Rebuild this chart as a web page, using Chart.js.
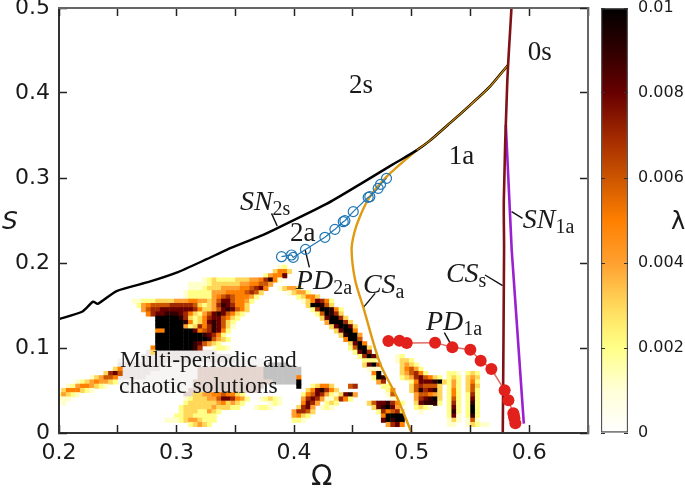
<!DOCTYPE html>
<html>
<head>
<meta charset="utf-8">
<script src="https://cdn.jsdelivr.net/npm/chart.js@4"></script>
<style>
    body { margin: 0; background: #fff; }
    #mainChart { position: absolute; left: 0; top: 0; }
    #barChart { position: absolute; left: 590px; top: 0; }
</style>
</head>
<body>
<canvas id="mainChart" width="685" height="488"></canvas>
<canvas id="barChart" width="95" height="488"></canvas>
<script>
// Bifurcation curves (Omega, S)
const sn2sOmega = [0.2, 0.22, 0.229, 0.233, 0.249, 0.277, 0.3, 0.3256, 0.3426, 0.371, 0.385, 0.4276, 0.4559, 0.484, 0.5042, 0.5155, 0.5325, 0.5495, 0.5665, 0.582];
const sn2sS = [0.134, 0.143, 0.1545, 0.152, 0.167, 0.178, 0.1886, 0.2045, 0.2155, 0.2315, 0.2405, 0.2695, 0.2925, 0.316, 0.3325, 0.344, 0.3645, 0.3855, 0.4075, 0.433];
const csaOmega = [0.5, 0.4873, 0.4731, 0.4587, 0.4519, 0.4489, 0.4511, 0.4559, 0.4645, 0.4787, 0.5042, 0.5155, 0.5325, 0.5495, 0.5665, 0.582];
const csaS = [0, 0.0427, 0.082, 0.1486, 0.18, 0.2153, 0.235, 0.2545, 0.278, 0.3015, 0.3325, 0.344, 0.3645, 0.3855, 0.4075, 0.433];
const cuspOmega = [0.5042, 0.5155, 0.5325, 0.5495, 0.5665, 0.582];
const cuspS = [0.3325, 0.344, 0.3645, 0.3855, 0.4075, 0.433];
const cssOmega = [0.5775, 0.5786, 0.5784, 0.5813, 0.5849];
const cssS = [0, 0.2153, 0.274, 0.4117, 0.5];
const sn1aOmega = [0.5954, 0.5851, 0.5801];
const sn1aS = [0.011, 0.2153, 0.3624];
const pd1aOmega = [0.4802, 0.4896, 0.4958, 0.5199, 0.5346, 0.5499, 0.5587, 0.5678, 0.5791, 0.5823, 0.5865, 0.587, 0.5874, 0.5882];
const pd1aS = [0.1082, 0.1086, 0.1059, 0.1063, 0.1008, 0.098, 0.0851, 0.0753, 0.0502, 0.0384, 0.0231, 0.02, 0.0173, 0.0114];
const pd2aOmega = [0.3893, 0.3978, 0.3992, 0.4097, 0.4262, 0.4347, 0.4418, 0.4432, 0.4503, 0.463, 0.4644, 0.4715, 0.4735, 0.4786];
const pd2aS = [0.2074, 0.2094, 0.2066, 0.216, 0.2302, 0.2396, 0.2486, 0.2498, 0.2604, 0.2772, 0.278, 0.2878, 0.2925, 0.2996];

// Leader lines from the labels to their curves
const leaders = [
    [[0.3808, 0.2584], [0.3856, 0.2435]],
    [[0.4094, 0.2153], [0.413, 0.1949]],
    [[0.4689, 0.1643], [0.459, 0.1478]],
    [[0.5624, 0.1859], [0.5774, 0.1733]],
    [[0.5278, 0.118], [0.5341, 0.1024]],
    [[0.585, 0.2604], [0.5943, 0.2526]]
];

// Lyapunov map: [S, first column, levels], column 0 is Omega 0.2, one column is 0.004
// levels 1-9 and x stand for 0.001 - 0.01, g/h/i/p are the grey patch under the text
const heatRows = [
    [0.095, 19, "hhhhhhhhhhhhhhh"],
    [0.09, 18, "hhhhhhhhhhhhhhhhhhh"],
    [0.085, 13, "iiiiiihhhhhhhhhhhhhhhhhhhiiiiii"],
    [0.08, 13, "hhhhhhhhhhiiiiiiiiiiiiiiiiiiiiiigggg"],
    [0.075, 13, "hhhhhhhhhiiiiiiiippppppppppppppgggggggg"],
    [0.07, 13, "hhhhhhhiiiiiiiiiippppppppppppppgggggggg"],
    [0.065, 13, "hhhhhhiiiiiiiiiiippppppppppppppggggggg"],
    [0.06, 13, "iiiiiiiiiiiiiiiipppppppppppppppppggggg"],
    [0.055, 14, "iiiiiiiiiiiiiiippppppppppppppp"],
    [0.05, 14, "iiiiiiiiiiiiiippppppppppppppp"],
    [0.045, 27, "pp"],
    // left tail
    [0.075, 12, "35"],
    [0.07, 10, "3786"],
    [0.065, 7, "134665"],
    [0.06, 4, "123454432"],
    [0.055, 2, "124554321"],
    [0.05, 1, "3555321"],
    [0.045, 0, "24321"],
    [0.04, 0, "111"],
    [0.035, 1, "1"],
    // upper wedge and the black core
    [0.195, 47, "12"],
    [0.19, 46, "3553"],
    [0.185, 44, "24558"],
    [0.18, 31, "12322223334457951"],
    [0.175, 28, "111123333334455664"],
    [0.17, 28, "11123334444556785"],
    [0.165, 27, "12222244455556763"],
    [0.16, 27, "1222224567655542"],
    [0.155, 16, "11222333344455443468865542"],
    [0.15, 17, "245666677777632347987553"],
    [0.145, 18, "46778888888753346898653"],
    [0.14, 19, "578899987532468986532"],
    [0.135, 21, "xxxxx9732357886532"],
    [0.13, 21, "xxxxxx95235898632"],
    [0.125, 21, "xxxxxx42375798631"],
    [0.12, 21, "55xxxxxx85679852"],
    [0.115, 21, "xxxxxxxxxx98752"],
    [0.11, 21, "xxxxxxxxxxx96432"],
    [0.105, 21, "xxxxxxxx986432"],
    [0.1, 20, "5xxxxxxxx97"],
    [0.1, 33, "1221"],
    [0.095, 20, "3"],
    // lower yellow blob
    [0.045, 29, "33445565532"],
    [0.04, 27, "12333446887542"],
    [0.04, 43, "12321"],
    [0.035, 27, "2333333453432"],
    [0.035, 45, "121"],
    [0.03, 26, "2333333433322"],
    [0.03, 42, "1221"],
    [0.025, 26, "233322432"],
    [0.02, 25, "223322222"],
    [0.015, 23, "11123443222"],
    [0.01, 28, "23432"],
    // small spot at 0.4
    [0.065, 51, "5"],
    [0.06, 51, "x"],
    [0.055, 51, "x"],
    // blob right of 0.4
    [0.055, 54, "23553"],
    [0.055, 62, "67"],
    [0.05, 53, "3589753"],
    [0.045, 52, "256874213894"],
    [0.04, 52, "47874113752"],
    [0.035, 52, "5874"],
    [0.035, 57, "232"],
    [0.03, 51, "3784"],
    [0.03, 56, "121"],
    [0.025, 50, "47763"],
    [0.02, 50, "4532"],
    [0.015, 50, "221"],
    // diagonal stripe
    [0.17, 47, "13443"],
    [0.165, 49, "13442"],
    [0.16, 51, "23553"],
    [0.155, 52, "1358752"],
    [0.15, 53, "3xx963"],
    [0.145, 54, "27xx952"],
    [0.14, 55, "26x973"],
    [0.135, 56, "38xx73"],
    [0.13, 57, "4xxx73"],
    [0.125, 58, "38xx83"],
    [0.12, 59, "38xx5"],
    [0.115, 60, "39xx4"],
    [0.11, 61, "5xx6"],
    [0.105, 62, "38x5"],
    [0.1, 62, "26xx3"],
    [0.095, 63, "28x7"],
    [0.09, 64, "27x8"],
    [0.085, 65, "222"],
    [0.08, 65, "38x6"],
    [0.075, 66, "111"],
    [0.07, 67, "5x"],
    [0.065, 67, "2x9"],
    [0.06, 68, "47"],
    [0.055, 69, "22"],
    [0.05, 70, "25"],
    [0.045, 70, "16"],
    [0.04, 71, "11"],
    // blob left of 0.5
    [0.035, 66, "36889752"],
    [0.03, 67, "389x84"],
    [0.025, 68, "275673"],
    [0.02, 69, "5xxxx"],
    [0.015, 69, "8x9xx"],
    [0.01, 70, "4785"],
    // blob right of 0.5
    [0.09, 72, "12"],
    [0.085, 72, "1332"],
    [0.08, 73, "3432"],
    [0.075, 73, "35642"],
    [0.07, 73, "346752"],
    [0.065, 73, "234786532"],
    [0.06, 75, "258889x3"],
    [0.055, 75, "3676663"],
    [0.05, 75, "3697893"],
    [0.045, 76, "466543"],
    [0.04, 76, "4789x3"],
    [0.035, 76, "389992"],
    [0.03, 76, "2321"],
    [0.025, 77, "1"],
    // two narrow stripes
    [0.07, 83, "221"],
    [0.065, 83, "232"],
    [0.06, 83, "242"],
    [0.055, 83, "242"],
    [0.05, 83, "252"],
    [0.045, 83, "252"],
    [0.04, 83, "262"],
    [0.035, 83, "272"],
    [0.03, 83, "282"],
    [0.025, 83, "292"],
    [0.02, 83, "281"],
    [0.015, 83, "131"],
    [0.01, 83, "11"],
    [0.07, 87, "232"],
    [0.065, 87, "343"],
    [0.06, 87, "352"],
    [0.055, 87, "363"],
    [0.05, 87, "362"],
    [0.045, 87, "272"],
    [0.04, 87, "282"],
    [0.035, 87, "292"],
    [0.03, 87, "2x2"],
    [0.025, 87, "2x2"],
    [0.02, 87, "292"],
    [0.015, 87, "161"],
    [0.01, 87, "13211"]
];

const heatColors = {
    "1": "#ffffcc", "2": "#ffff88", "3": "#ffd85a", "4": "#ffa030", "5": "#ff8000",
    "6": "#cc5500", "7": "#a02800", "8": "#680000", "9": "#300000", "x": "#000000",
    "g": "#c2c2c2", "h": "#ede9e8", "i": "#f7f5f4", "p": "#e6d6d0"
};

const barStops = [
    [0, "#ffffff"], [0.1, "#ffffd8"], [0.2, "#ffff88"], [0.25, "#ffee70"], [0.3, "#ffd85a"],
    [0.4, "#ffa030"], [0.5, "#ff8000"], [0.6, "#cc5500"], [0.7, "#a02800"], [0.8, "#680000"],
    [0.9, "#300000"], [1, "#000000"]
];

const mathLabels = [
    { main: "SN", sub: "2s", x: 0.3539, y: 0.2624 },
    { main: "PD", sub: "2a", x: 0.4015, y: 0.169 },
    { main: "CS", sub: "a", x: 0.4585, y: 0.1647 },
    { main: "PD", sub: "1a", x: 0.5121, y: 0.1212 },
    { main: "CS", sub: "s", x: 0.5291, y: 0.1776 },
    { main: "SN", sub: "1a", x: 0.5946, y: 0.2412 }
];
const plainLabels = [
    { text: "2s", x: 0.4466, y: 0.4, size: 27 },
    { text: "0s", x: 0.5988, y: 0.4388, size: 27 },
    { text: "1a", x: 0.5316, y: 0.3165, size: 27 },
    { text: "2a", x: 0.3964, y: 0.2259, size: 27 },
    { text: "Multi-periodic and", x: 0.2519, y: 0.0776, size: 23.5 },
    { text: "chaotic solutions", x: 0.251, y: 0.047, size: 23.5 }
];

function zip(xs, ys) {
    return xs.map((x, i) => ({ x: x, y: ys[i] }));
}

function buildHeatPoints() {
    const points = [];
    heatRows.forEach(row => {
        [...row[2]].forEach((level, i) => {
            points.push({ x: 0.2 + (row[1] + i) * 0.004, y: row[0], level: level });
        });
    });
    return points;
}

const textPlugin = {
    id: "textPlugin",
    afterDraw(chart) {
        const ctx = chart.ctx;
        const xScale = chart.scales.x;
        const yScale = chart.scales.y;
        ctx.save();
        ctx.fillStyle = "#1a1a1a";
        ctx.textBaseline = "alphabetic";
        ctx.textAlign = "left";

        plainLabels.forEach(label => {
            ctx.font = label.size + 'px "Liberation Serif"';
            ctx.fillText(label.text, xScale.getPixelForValue(label.x), yScale.getPixelForValue(label.y));
        });
        mathLabels.forEach(label => {
            const px = xScale.getPixelForValue(label.x);
            const py = yScale.getPixelForValue(label.y);
            ctx.font = 'italic 28px "Liberation Serif"';
            ctx.fillText(label.main, px, py);
            const w = ctx.measureText(label.main).width;
            ctx.font = '20px "Liberation Serif"';
            ctx.fillText(label.sub, px + w, py + 5);
        });

        ctx.font = 'oblique 25px "DejaVu Sans"';
        ctx.fillText("S", 2, 229);
        ctx.font = '28px "DejaVu Sans"';
        ctx.fillText("Ω", 311, 485);
        ctx.font = '24px "DejaVu Sans"';
        ctx.fillText("λ", 671, 229);
        ctx.restore();
    }
};

// fixed axis sizes so the plot area stays where the reference has it
function fixSize(scale, position, size) {
    if (position === "left" || position === "right") {
        scale.width = size;
    } else {
        scale.height = size;
    }
    scale.paddingTop = 0;
    scale.paddingBottom = 0;
    scale.paddingLeft = 0;
    scale.paddingRight = 0;
}

function axisOptions(position, size, withLabels) {
    return {
        type: "linear",
        position: position,
        border: { display: true, color: withLabels ? "#333" : "#666", width: 2, z: 2 },
        grid: { drawOnChartArea: false, drawTicks: true, tickLength: -8, tickWidth: 1.5, tickColor: "#222", z: 2 },
        afterFit(scale) {
            fixSize(scale, position, size);
        }
    };
}

function xAxis(position, size, withLabels) {
    const opts = axisOptions(position, size, withLabels);
    opts.min = 0.2;
    opts.max = 0.65;
    opts.ticks = {
        display: withLabels,
        stepSize: 0.05,
        autoSkip: false,
        maxRotation: 0,
        padding: 15,
        color: "#1a1a1a",
        font: { family: "DejaVu Sans", size: 22 },
        callback: value => Math.round(value * 100) % 10 === 0 ? value.toFixed(1) : ""
    };
    return opts;
}

function yAxis(position, size, withLabels) {
    const opts = axisOptions(position, size, withLabels);
    opts.min = 0;
    opts.max = 0.5;
    opts.ticks = {
        display: withLabels,
        stepSize: 0.1,
        padding: 17,
        color: "#1a1a1a",
        font: { family: "DejaVu Sans", size: 22 },
        callback: value => value === 0 ? "0" : value.toFixed(1)
    };
    return opts;
}

function lineSet(data, color, width, extra) {
    return Object.assign({
        data: data,
        showLine: true,
        borderColor: color,
        borderWidth: width,
        pointRadius: 0,
        tension: 0
    }, extra || {});
}

const heatPoints = buildHeatPoints();

const mainDatasets = [
    lineSet(zip(pd1aOmega, pd1aS), "#e06a62", 1.5, { pointRadius: 6, pointBackgroundColor: "#e3211c", pointBorderColor: "#e3211c", pointBorderWidth: 0 }),
    lineSet(zip(pd2aOmega, pd2aS), "#1f77b4", 1.2, { pointRadius: 5, pointBackgroundColor: "transparent", pointBorderColor: "#1f77b4", pointBorderWidth: 1.2 }),
    lineSet(zip(cssOmega, cssS), "#7e1216", 2.6, { tension: 0.3 }),
    lineSet(zip(sn1aOmega, sn1aS), "#9a20d0", 2.6),
    lineSet(zip(cuspOmega, cuspS), "#d8960f", 1.1, { tension: 0.3 }),
    lineSet(zip(sn2sOmega, sn2sS), "#000000", 2.4, { tension: 0.2 }),
    lineSet(zip(csaOmega, csaS), "#e09a10", 2.4, { tension: 0.3 })
];
leaders.forEach(leader => {
    mainDatasets.push(lineSet(leader.map(p => ({ x: p[0], y: p[1] })), "#111", 1.4));
});
mainDatasets.push({
    data: heatPoints,
    showLine: false,
    pointStyle: "rect",
    pointRadius: 3.6,
    pointBorderWidth: 0,
    pointBackgroundColor: heatPoints.map(p => heatColors[p.level])
});

new Chart(document.getElementById("mainChart"), {
    type: "scatter",
    data: { datasets: mainDatasets },
    options: {
        responsive: false,
        animation: false,
        layout: { padding: 0, autoPadding: false },
        plugins: { legend: { display: false }, tooltip: { enabled: false } },
        events: [],
        scales: {
            x: xAxis("bottom", 55, true),
            y: yAxis("left", 59, true),
            x2: xAxis("top", 8, false),
            y2: yAxis("right", 97, false)
        }
    },
    plugins: [textPlugin]
});

// Colour bar
const barTicks = [0, 0.002, 0.004, 0.006, 0.008, 0.01];

function barGradient(context) {
    const area = context.chart.chartArea;
    if (!area) return "#fff";
    const gradient = context.chart.ctx.createLinearGradient(0, area.bottom, 0, area.top);
    barStops.forEach(stop => gradient.addColorStop(stop[0], stop[1]));
    return gradient;
}

function barAxis(position, size, withLabels) {
    return {
        type: "linear",
        position: position,
        min: 0,
        max: 0.01,
        border: { display: false },
        grid: { drawOnChartArea: false, drawTicks: true, tickLength: -4, tickWidth: 1, tickColor: "#333", z: 2 },
        afterBuildTicks(scale) {
            scale.ticks = barTicks.map(v => ({ value: v }));
        },
        ticks: {
            display: withLabels,
            padding: 14,
            color: "#1a1a1a",
            font: { family: "DejaVu Sans", size: 16 },
            callback: value => String(value)
        },
        afterFit(scale) {
            fixSize(scale, position, size);
        }
    };
}

new Chart(document.getElementById("barChart"), {
    type: "bar",
    data: {
        labels: ["λ"],
        datasets: [{
            data: [[0, 0.01]],
            backgroundColor: barGradient,
            borderColor: "#555",
            borderWidth: 1.5,
            borderSkipped: false,
            barPercentage: 1,
            categoryPercentage: 1
        }]
    },
    options: {
        responsive: false,
        animation: false,
        layout: { padding: { top: 8, bottom: 55 }, autoPadding: false },
        plugins: { legend: { display: false }, tooltip: { enabled: false } },
        events: [],
        scales: {
            x: { display: false },
            y: barAxis("right", 57, true),
            y2: barAxis("left", 11, false)
        }
    }
});
</script>
</body>
</html>
